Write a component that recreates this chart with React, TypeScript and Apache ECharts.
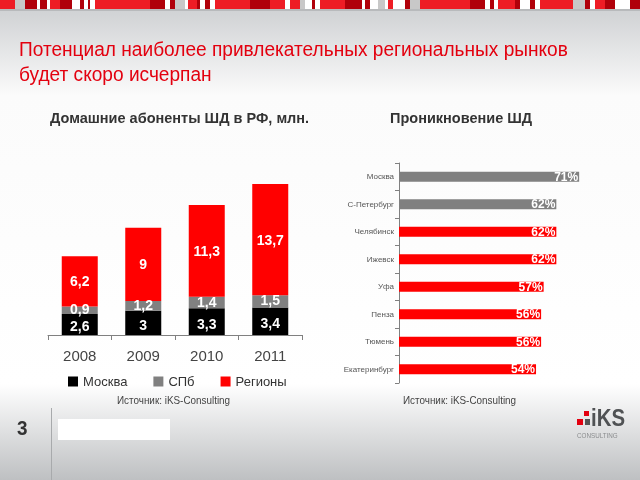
import React, { useEffect, useRef } from "react";
import * as echarts from "echarts";

const years = ["2008", "2009", "2010", "2011"];
const moscow = [2.6, 3, 3.3, 3.4];
const spb = [0.9, 1.2, 1.4, 1.5];
const regions = [6.2, 9, 11.3, 13.7];

const cities = ["Москва", "С-Петербург", "Челябинск", "Ижевск", "Уфа", "Пенза", "Тюмень", "Екатеринбург"];
const penetration = [71, 62, 62, 62, 57, 56, 56, 54];
const cityIsCapital = [true, true, false, false, false, false, false, false];

const RED = "#ff0000";
const GRAY = "#808080";
const SANS = "'Liberation Sans', Arial, sans-serif";

// decorative stripe at the top: [x0, x1, colour]
const stripe: [number, number, string][] = [
  [0, 15, "#ee1c25"], [15, 25, "#c8c8c8"], [25, 37, "#b0000a"], [40, 47, "#b0000a"],
  [50, 60, "#ee1c25"], [60, 72, "#b0000a"], [80, 84, "#b0000a"], [88, 90, "#b0000a"],
  [95, 150, "#ee1c25"], [150, 165, "#b0000a"], [170, 175, "#b0000a"], [175, 185, "#c8c8c8"],
  [188, 197, "#ee1c25"], [197, 200, "#b0000a"], [205, 210, "#b0000a"], [215, 250, "#ee1c25"],
  [250, 270, "#b0000a"], [270, 285, "#ee1c25"], [290, 300, "#ee1c25"], [300, 305, "#c8c8c8"],
  [312, 315, "#b0000a"], [320, 345, "#ee1c25"], [345, 362, "#b0000a"], [365, 370, "#b0000a"],
  [378, 385, "#c8c8c8"], [388, 393, "#ee1c25"], [405, 410, "#b0000a"], [410, 420, "#c8c8c8"],
  [420, 470, "#ee1c25"], [470, 485, "#b0000a"], [490, 494, "#b0000a"], [498, 515, "#ee1c25"],
  [515, 520, "#b0000a"], [530, 535, "#b0000a"], [540, 573, "#ee1c25"], [573, 585, "#c8c8c8"],
  [585, 590, "#b0000a"], [595, 605, "#ee1c25"], [605, 615, "#b0000a"], [630, 640, "#b0000a"],
];

const fmt = (v: number) => String(v).replace(".", ",");

export default function App() {
  const ref = useRef<HTMLDivElement>(null);
  useEffect(() => {
    if (!ref.current) return;
    const chart = echarts.init(ref.current, null, { renderer: "svg" });
    const barLabel = (dy: number) => ({
      show: true,
      position: "inside",
      offset: [0, dy],
      color: "#fff",
      fontWeight: "bold",
      fontSize: 14,
      lineHeight: 13,
      fontFamily: SANS,
      formatter: (p: any) => fmt(p.value),
    });
    const txt = (x: number, y: number, text: string, style: any, sx = 1) => ({
      type: "text",
      x,
      y,
      scaleX: sx,
      style: { text, fontFamily: SANS, verticalAlign: "top", textVerticalAlign: "top", ...style },
    });
    const graphic: any[] = [
      {
        type: "rect",
        z: -10,
        silent: true,
        shape: { x: 0, y: 0, width: 640, height: 480 },
        style: {
          fill: new echarts.graphic.LinearGradient(0, 0, 0, 1, [
            { offset: 0, color: "#cdd0d2" },
            { offset: 0.03, color: "#d2d4d6" },
            { offset: 0.2, color: "#fbfbfb" },
            { offset: 0.8, color: "#ffffff" },
            { offset: 1, color: "#bec0c2" },
          ]),
        },
      },
      { type: "rect", z: -9, shape: { x: 0, y: 0, width: 640, height: 9 }, style: { fill: "#ffffff" } },
      ...stripe.map(([a, b, c]) => ({
        type: "rect",
        z: -8,
        shape: { x: a, y: 0, width: b - a, height: 9 },
        style: { fill: c },
      })),
      { type: "rect", z: -8, shape: { x: 0, y: 9, width: 640, height: 2 }, style: { fill: "#b8babc" } },
      txt(19, 38, "Потенциал наиболее привлекательных региональных рынков", { fill: "#e3000f", fontSize: 21 }, 0.91),
      txt(19, 63, "будет скоро исчерпан", { fill: "#e3000f", fontSize: 21 }, 0.91),
      txt(50, 110, "Домашние абоненты ШД в РФ, млн.", { fill: "#333", fontSize: 14.5, fontWeight: "bold" }),
      txt(390, 110, "Проникновение ШД", { fill: "#333", fontSize: 14.5, fontWeight: "bold" }),
      txt(117, 395, "Источник: iKS-Consulting", { fill: "#444", fontSize: 11 }, 0.9),
      txt(403, 395, "Источник: iKS-Consulting", { fill: "#444", fontSize: 11 }, 0.9),
      txt(17, 417, "3", { fill: "#333", fontSize: 21, fontWeight: "bold" }, 0.9),
      { type: "line", shape: { x1: 51.5, y1: 408, x2: 51.5, y2: 480 }, style: { stroke: "#a8aaac", lineWidth: 1 } },
      { type: "rect", shape: { x: 58, y: 419, width: 112, height: 21 }, style: { fill: "#ffffff" } },
      { type: "rect", shape: { x: 584, y: 411, width: 5, height: 5 }, style: { fill: "#e3000f" } },
      { type: "rect", shape: { x: 577, y: 419, width: 6, height: 6 }, style: { fill: "#e3000f" } },
      { type: "rect", shape: { x: 585, y: 419, width: 5, height: 6 }, style: { fill: "#555" } },
      txt(591, 406, "iKS", { fill: "#505254", fontSize: 24, lineHeight: 24, fontWeight: "bold" }, 0.85),
      txt(577, 432, "CONSULTING", { fill: "#8a8c8e", fontSize: 7, lineHeight: 7 }, 0.9),
    ];

    chart.setOption({
      animation: false,
      backgroundColor: "transparent",
      graphic,
      legend: {
        left: 63,
        top: 370,
        itemWidth: 10,
        itemHeight: 10,
        itemGap: 26,
        icon: "rect",
        textStyle: { fontSize: 13, color: "#333", fontFamily: SANS },
        data: ["Москва", "СПб", "Регионы"],
      },
      grid: [
        { left: 48, width: 254, top: 172.6, bottom: 145 },
        { left: 399, width: 203, top: 163, height: 220 },
      ],
      xAxis: [
        {
          gridIndex: 0,
          type: "category",
          data: years,
          axisLine: { lineStyle: { color: "#808080" } },
          axisTick: { show: true, length: 5, lineStyle: { color: "#808080" } },
          axisLabel: { fontSize: 15, color: "#444", margin: 13, fontFamily: SANS },
        },
        { gridIndex: 1, type: "value", min: 0, max: 80, show: false },
      ],
      yAxis: [
        { gridIndex: 0, type: "value", min: 0, max: 20, show: false },
        {
          gridIndex: 1,
          type: "category",
          data: cities,
          inverse: true,
          axisLine: { lineStyle: { color: "#808080" } },
          axisTick: { show: true, length: 4, lineStyle: { color: "#808080" } },
          axisLabel: { fontSize: 8, color: "#555", margin: 5, fontFamily: SANS },
          splitLine: { show: false },
        },
      ],
      series: [
        {
          name: "Москва",
          type: "bar",
          stack: "total",
          xAxisIndex: 0,
          yAxisIndex: 0,
          barWidth: 36,
          data: moscow,
          itemStyle: { color: "#000" },
          label: barLabel(2),
        },
        {
          name: "СПб",
          type: "bar",
          stack: "total",
          xAxisIndex: 0,
          yAxisIndex: 0,
          barWidth: 36,
          data: spb,
          itemStyle: { color: GRAY },
          label: barLabel(-1),
        },
        {
          name: "Регионы",
          type: "bar",
          stack: "total",
          xAxisIndex: 0,
          yAxisIndex: 0,
          barWidth: 36,
          data: regions,
          itemStyle: { color: RED },
          label: barLabel(0),
        },
        {
          name: "Проникновение",
          type: "bar",
          xAxisIndex: 1,
          yAxisIndex: 1,
          barWidth: 10,
          data: penetration.map((v, i) => ({ value: v, itemStyle: { color: cityIsCapital[i] ? GRAY : RED } })),
          label: {
            show: true,
            position: "insideRight",
            distance: 1,
            color: "#fff",
            fontWeight: "bold",
            fontSize: 12,
            fontFamily: SANS,
            formatter: "{c}%",
          },
        },
      ],
    });
    return () => chart.dispose();
  }, []);
  return <div ref={ref} style={{ position: "fixed", left: 0, top: 0, width: 640, height: 480 }} />;
}
